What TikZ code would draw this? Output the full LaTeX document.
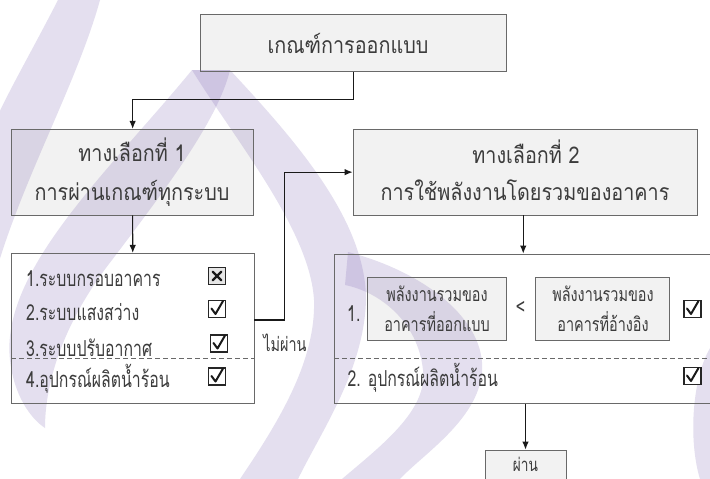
\documentclass[tikz,border=0pt]{standalone}
\usepackage{fontspec}
\setmainfont[Script=Thai]{Loma}
\newfontfamily\ftitle[Script=Thai,FakeStretch=0.86]{Loma}
\newfontfamily\flist[Script=Thai,FakeStretch=0.72]{Loma}
\newfontfamily\fsmall[Script=Thai,FakeStretch=0.74]{Loma}
\usetikzlibrary{arrows.meta,calc}
\definecolor{boxfill}{RGB}{242,242,242}
\definecolor{boxline}{RGB}{105,105,105}
\definecolor{txt}{RGB}{60,60,60}
\definecolor{wmc}{RGB}{120,95,175}
\pgfdeclarelayer{bg}
\pgfdeclarelayer{wm}
\pgfsetlayers{bg,wm,main}
\newcommand\mychk[1]{\draw[ckm] ($(#1.center)+(-5.5,-0.5)$) -- ($(#1.center)+(-1.5,5)$) -- ($(#1.center)+(6,-8)$);}
\newcommand\mycross[1]{\draw[crm] ($(#1.center)+(-4.3,-4.3)$) -- ($(#1.center)+(4.3,4.3)$);
  \draw[crm] ($(#1.center)+(-4.3,4.3)$) -- ($(#1.center)+(4.3,-4.3)$);}
\begin{document}
\begin{tikzpicture}[x=1pt,y=-1pt,
  box/.style={draw=boxline, line width=0.8pt, inner sep=0pt},
  arr/.style={draw=black!90, line width=1.1pt, -{Latex[length=8pt,width=6.5pt]}},
  dsh/.style={draw=boxline, line width=0.8pt, dash pattern=on 5pt off 3pt},
  tx/.style={text=txt, inner sep=0pt, font=\ftitle\fontsize{23}{27}\selectfont},
  tl/.style={text=txt, inner sep=0pt, font=\flist\fontsize{22}{25}\selectfont},
  ts/.style={text=txt, inner sep=0pt, font=\fsmall\fontsize{19.5}{23}\selectfont},
  chkbox/.style={draw=black!85, line width=1.6pt, minimum width=17pt, minimum height=17pt, inner sep=0pt, fill=white},
  ckm/.style={draw=black!90, line width=2pt, line join=round, line cap=round},
  crm/.style={draw=black!90, line width=2.4pt, line cap=round},
  wmark/.style={fill=wmc, fill opacity=0.2}
]
\useasboundingbox (0,0) rectangle (710,479);

% boxes
\node[box, minimum width=305.4pt, minimum height=57.4pt] (top) at (353.3,43) {};
\node[box, minimum width=242.3pt, minimum height=85.7pt] (opt1) at (132.65,172.15) {};
\node[box, minimum width=344.5pt, minimum height=85.7pt] (opt2) at (525.25,172.15) {};
\node[box, minimum width=242.5pt, minimum height=150pt] (list1) at (132.75,328.3) {};
\node[box, minimum width=380pt, minimum height=149.3pt] (list2) at (524.3,328.65) {};
\node[box, minimum width=138.8pt, minimum height=62.3pt] (ea) at (437.1,308.85) {};
\node[box, minimum width=134pt, minimum height=62.3pt] (eb) at (602,308.85) {};
\node[box, minimum width=81pt, minimum height=44pt] (pass) at (525.5,472) {};

\begin{pgfonlayer}{bg}
  \fill[white] (0,0) rectangle (710,479);
  \foreach \n in {top,opt1,opt2,ea,eb,pass}
    \fill[boxfill] (\n.south west) rectangle (\n.north east);
\end{pgfonlayer}

% watermark
\begin{pgfonlayer}{wm}
  \fill[wmark] (58,0) .. controls (35,45) and (12,85) .. (-2,115) -- (-2,265)
     .. controls (25,175) and (78,80) .. (100,0) -- cycle;
  \fill[wmark] (192,70) .. controls (110,170) and (0,270) .. (10,360)
     .. controls (14,395) and (30,418) .. (45,428)
     .. controls (45,380) and (65,320) .. (112,260)
     .. controls (165,190) and (218,120) .. (230,70) -- cycle;
  \fill[wmark] (230,70) .. controls (295,140) and (366,220) .. (366,300)
     .. controls (364,370) and (322,430) .. (298,479) -- (240,479)
     .. controls (280,420) and (316,360) .. (314,300)
     .. controls (310,230) and (235,140) .. (192,70) -- cycle;
  \fill[wmark] (348,252) .. controls (425,272) and (486,320) .. (482,372)
     .. controls (478,420) and (422,455) .. (400,479) -- (342,479)
     .. controls (382,445) and (428,410) .. (423,370)
     .. controls (418,322) and (380,292) .. (345,285) -- cycle;
  \fill[wmark] (712,345) .. controls (692,375) and (688,440) .. (700,479) -- (712,479) -- cycle;
\end{pgfonlayer}

% texts
\node[tx, anchor=base] (ttop) at (348,53.3) {เกณฑ์การออกแบบ};
\node[tx, anchor=base] (t1a) at (132,161.7) {ทางเลือกที่ 1};
\node[tx, anchor=base] (t1b) at (132,200) {การผ่านเกณฑ์ทุกระบบ};
\node[tx, anchor=base] (t2a) at (526,163) {ทางเลือกที่ 2};
\node[tx, anchor=base] (t2b) at (525,200) {การใช้พลังงานโดยรวมของอาคาร};

\node[tl, anchor=base west] (i1) at (26,286.7) {1.ระบบกรอบอาคาร};
\node[tl, anchor=base west] (i2) at (26,320) {2.ระบบแสงสว่าง};
\node[tl, anchor=base west] (i3) at (26,356.2) {3.ระบบปรับอากาศ};
\node[tl, anchor=base west] (i4) at (26,387.7) {4.อุปกรณ์ผลิตน้ำร้อน};

\node[ts, anchor=base] (fail) at (285,351) {ไม่ผ่าน};

\node[tl, anchor=base west] (j1) at (347,321.7) {1.};
\node[ts, anchor=base] (eat) at (437,301.7) {พลังงานรวมของ};
\node[ts, anchor=base] (eab) at (437,331.7) {อาคารที่ออกแบบ};
\node[tl, anchor=center] (lt) at (520.5,308) {<};
\node[ts, anchor=base] (ebt) at (603,301.7) {พลังงานรวมของ};
\node[ts, anchor=base] (ebb) at (603,331.7) {อาคารที่อ้างอิง};
\node[tl, anchor=base west] (j2) at (347.3,386.7) {2. อุปกรณ์ผลิตน้ำร้อน};
\node[ts, anchor=base, font=\fsmall\fontsize{18.5}{22}\selectfont] (tpass) at (525.5,471.5) {ผ่าน};

% dashed separators
\draw[dsh] ($(list1.south west)+(0,-45)$) -- ($(list1.south east)+(0,-45)$);
\draw[dsh] ($(list2.south west)+(0,-45)$) -- ($(list2.south east)+(0,-45)$);

% check boxes
\node[chkbox, fill=black!10] (c1) at (217,276) {};
\node[chkbox] (c2) at (217,309) {};
\node[chkbox] (c3) at (219,343.5) {};
\node[chkbox] (c4) at (217,376.5) {};
\node[chkbox] (c5) at (692.5,309) {};
\node[chkbox] (c6) at (692.5,376) {};
\mycross{c1}
\mychk{c2}
\mychk{c3}
\mychk{c4}
\mychk{c5}
\mychk{c6}

% connectors
\draw[arr] (top.south) -- ++(0,27.6) -| (opt1.north);
\draw[arr] (opt1.south) -- (list1.north);
\draw[arr] ([yshift=8.3pt]list1.east) -- ++(30.3,0) |- (opt2.west);
\draw[arr] ([xshift=-2pt]opt2.south) -- ([xshift=-2pt]opt2.south |- list2.north);
\draw[arr] (pass.north |- list2.south) -- (pass.north);
\end{tikzpicture}
\end{document}
